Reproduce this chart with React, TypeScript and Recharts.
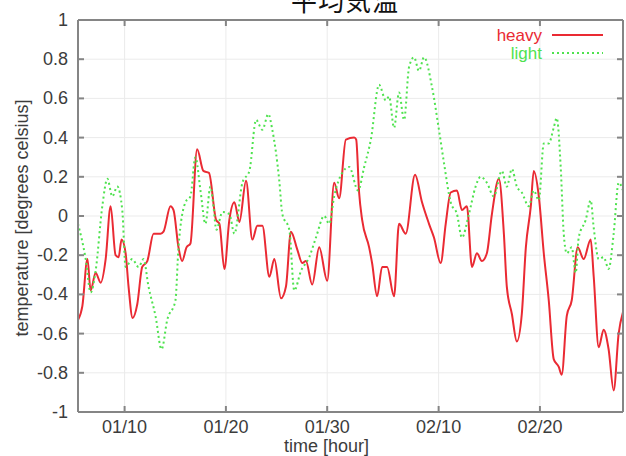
import { LineChart, Line, XAxis, YAxis, CartesianGrid, Legend } from 'recharts'

const title = '平均気温'

const dayTicks = [10, 20, 30, 41, 51]
const dayLabels = ['01/10', '01/20', '01/30', '02/10', '02/20']
const tempTicks = [-1, -0.8, -0.6, -0.4, -0.2, 0, 0.2, 0.4, 0.6, 0.8, 1]
const dayRange = [5.4, 59.2]
const tempRange = [-1, 1]

// heavy series (day of year, temperature)
const heavyDays = [
  5.4, 5.83, 6.33, 6.65, 7.14, 7.64, 8.13, 8.62, 9.11, 9.41,
  9.7, 10.1, 10.39, 10.79, 11.25, 11.74, 12.24, 12.86, 13.55, 13.84,
  14.53, 14.83, 15.32, 15.68, 16.11, 16.5, 17.16, 17.78, 18.33, 19.03,
  19.36, 19.85, 20.34, 20.84, 21.33, 21.99, 22.61, 23.1, 23.6, 24.29,
  24.78, 25.44, 25.93, 26.42, 27.04, 27.54, 27.9, 28.52, 29.21, 30.0,
  30.69, 31.18, 31.84, 32.66, 32.86, 33.15, 33.45, 34.14, 34.43, 34.93,
  35.42, 35.91, 36.6, 37.09, 37.75, 38.67, 39.36, 40.05, 40.54, 41.2,
  41.7, 42.19, 42.81, 43.3, 43.79, 44.29, 44.78, 45.27, 45.76, 46.26,
  46.95, 47.44, 47.73, 48.23, 48.72, 49.21, 49.61, 50.1, 50.39, 50.89,
  51.38, 51.87, 52.36, 52.86, 53.15, 53.65, 54.14, 54.73, 55.32, 56.01,
  56.31, 56.8, 57.29, 57.78, 58.28, 58.77, 59.2,
]
const heavyTemps = [
  -0.53, -0.46, -0.22, -0.38, -0.29, -0.34, -0.22, 0.05, -0.2, -0.21,
  -0.12, -0.19, -0.36, -0.52, -0.45, -0.26, -0.23, -0.09, -0.09, -0.08,
  0.05, 0.03, -0.16, -0.23, -0.16, -0.14, 0.34, 0.23, 0.22, -0.02,
  -0.04, -0.27, -0.02, 0.07, -0.03, 0.18, -0.12, -0.05, -0.05, -0.31,
  -0.22, -0.42, -0.36, -0.08, -0.17, -0.24, -0.23, -0.35, -0.16, -0.33,
  0.17, 0.09, 0.39, 0.4, 0.39, 0.12, -0.02, -0.16, -0.24, -0.41,
  -0.26, -0.26, -0.41, -0.04, -0.09, 0.21, 0.07, -0.04, -0.11, -0.24,
  -0.04, 0.12, 0.13, 0.03, 0.05, -0.26, -0.19, -0.23, -0.19, 0.01,
  0.19, -0.09, -0.36, -0.5, -0.64, -0.5, -0.16, 0.05, 0.23, 0.1,
  -0.19, -0.43, -0.73, -0.77, -0.81, -0.51, -0.43, -0.16, -0.22, -0.12,
  -0.31, -0.67, -0.58, -0.68, -0.89, -0.6, -0.49,
]

// light series
const lightDays = [
  5.4, 6.16, 6.65, 7.14, 7.8, 8.3, 8.79, 9.28, 9.77, 10.1,
  10.76, 11.38, 11.87, 12.36, 13.05, 13.65, 14.21, 15.02, 15.32, 16.01,
  16.5, 16.99, 17.49, 17.98, 18.47, 18.77, 19.06, 19.66, 20.34, 20.84,
  21.63, 22.32, 22.98, 23.6, 24.19, 24.58, 25.27, 25.57, 26.26, 26.75,
  27.41, 28.23, 28.89, 29.7, 30.2, 30.69, 31.48, 32.17, 33.05, 33.65,
  34.31, 35.12, 35.78, 36.11, 36.6, 37.09, 37.59, 38.08, 38.57, 39.06,
  39.56, 40.34, 41.03, 41.53, 42.19, 42.81, 43.3, 43.99, 44.65, 45.14,
  45.76, 46.45, 47.24, 47.73, 48.23, 48.72, 49.21, 49.9, 50.39, 50.89,
  51.38, 51.87, 52.36, 52.66, 53.05, 53.35, 53.65, 54.14, 54.53, 54.83,
  55.52, 56.01, 56.31, 56.8, 57.29, 57.78, 58.28, 58.77, 59.2,
]
const lightTemps = [
  -0.04, -0.22, -0.39, -0.28, 0.05, 0.19, 0.1, 0.15, 0.03, -0.26,
  -0.22, -0.26, -0.22, -0.36, -0.51, -0.68, -0.53, -0.43, -0.16, 0.07,
  0.1, 0.3, 0.13, -0.04, 0.15, 0.05, -0.07, 0.02, 0.01, -0.09,
  0.17, 0.23, 0.49, 0.44, 0.52, 0.44, 0.18, 0.01, -0.07, -0.38,
  -0.28, -0.21, -0.11, 0.0, -0.04, 0.1, 0.22, 0.25, 0.13, 0.25,
  0.39, 0.67, 0.59, 0.61, 0.45, 0.63, 0.49, 0.76, 0.81, 0.74,
  0.81, 0.66, 0.44, 0.27, 0.07, 0.01, -0.11, 0.01, 0.15, 0.2,
  0.17, 0.1, 0.23, 0.15, 0.24, 0.15, 0.12, 0.05, 0.13, 0.08,
  0.37, 0.37, 0.45, 0.5, 0.25, -0.09, -0.19, -0.16, -0.29, -0.11,
  -0.02, 0.08, -0.06, -0.22, -0.21, -0.27, -0.09, 0.17, 0.13,
]

const heavy = heavyDays.map((day, i) => ({ day, temp: heavyTemps[i] }))
const light = lightDays.map((day, i) => ({ day, temp: lightTemps[i] }))

const FONT = '"Liberation Sans", Arial, sans-serif'
const FRAME = '#858585'
const TEXT = '#3c3c3c'
const RED = '#ea2a33'
const GREEN = '#4fe24f'

function LeftTick({ x, y, payload }: any) {
  return (
    <g>
      <line x1={x + 10} x2={x + 16} y1={y} y2={y} stroke={FRAME} strokeWidth={2} />
      <text x={x} y={y} dy={6} textAnchor="end" fill={TEXT} fontSize={18} fontFamily={FONT}>
        {String(payload.value)}
      </text>
    </g>
  )
}

function BottomTick({ x, y, payload }: any) {
  return (
    <g>
      <line x1={x} x2={x} y1={y - 6} y2={y} stroke={FRAME} strokeWidth={2} />
      <text x={x} y={y + 21} textAnchor="middle" fill={TEXT} fontSize={18} fontFamily={FONT}>
        {dayLabels[dayTicks.indexOf(payload.value)]}
      </text>
    </g>
  )
}

// mirrored tick marks on the top and right edges (no labels)
function TopTick({ x, y }: any) {
  return <line x1={x} x2={x} y1={y} y2={y + 6} stroke={FRAME} strokeWidth={2} />
}

function RightTick({ x, y }: any) {
  return <line x1={x - 6} x2={x} y1={y} y2={y} stroke={FRAME} strokeWidth={2} />
}

function LegendBox({ payload }: any) {
  return (
    <svg width={626} height={70}>
      {(payload || []).map((entry: any, i: number) => (
        <g key={entry.value}>
          <text x={542} y={41 + i * 18} textAnchor="end" fill={entry.color} fontSize={17} fontFamily={FONT}>
            {entry.value}
          </text>
          <line
            x1={552}
            x2={603}
            y1={35 + i * 18}
            y2={35 + i * 18}
            stroke={entry.color}
            strokeWidth={2}
            strokeDasharray={entry.payload?.strokeDasharray}
          />
        </g>
      ))}
    </svg>
  )
}

export default function App() {
  return (
    <div style={{ position: 'absolute', left: 0, top: 0, width: 626, height: 456, background: '#fff' }}>
      <LineChart width={626} height={456} margin={{ top: 19, right: 2, bottom: 0, left: 0 }}>
        <CartesianGrid stroke="#ebebeb" strokeWidth={1} />
        <XAxis
          type="number"
          dataKey="day"
          domain={dayRange}
          allowDataOverflow
          ticks={dayTicks}
          interval={0}
          height={44}
          tickSize={0}
          tickMargin={0}
          tickLine={false}
          stroke={FRAME}
          strokeWidth={2}
          tick={<BottomTick />}
          label={{
            content: ({ viewBox }: any) => (
              <text
                x={viewBox.x + viewBox.width / 2 - 24}
                y={viewBox.y + viewBox.height - 4}
                textAnchor="middle"
                fill={TEXT}
                fontSize={18}
                fontFamily={FONT}
              >
                time [hour]
              </text>
            ),
          }}
        />
        <XAxis
          xAxisId="top"
          orientation="top"
          type="number"
          dataKey="day"
          domain={dayRange}
          allowDataOverflow
          ticks={dayTicks}
          interval={0}
          height={1}
          tickSize={0}
          tickMargin={0}
          tickLine={false}
          stroke={FRAME}
          strokeWidth={2}
          tick={<TopTick />}
        />
        <YAxis
          type="number"
          domain={tempRange}
          ticks={tempTicks}
          interval={0}
          width={78}
          tickSize={0}
          tickMargin={10}
          tickLine={false}
          stroke={FRAME}
          strokeWidth={2}
          tick={<LeftTick />}
          label={{
            content: ({ viewBox }: any) => {
              const cx = viewBox.x + 22
              const cy = viewBox.y + viewBox.height / 2 + 2
              return (
                <text
                  x={cx}
                  y={cy}
                  transform={`rotate(-90 ${cx} ${cy})`}
                  textAnchor="middle"
                  dominantBaseline="central"
                  fill={TEXT}
                  fontSize={18}
                  fontFamily={FONT}
                >
                  temperature [degrees celsius]
                </text>
              )
            },
          }}
        />
        <YAxis
          yAxisId="right"
          orientation="right"
          type="number"
          domain={tempRange}
          ticks={tempTicks}
          interval={0}
          width={1}
          tickSize={0}
          tickMargin={0}
          tickLine={false}
          stroke={FRAME}
          strokeWidth={2}
          tick={<RightTick />}
        />
        <Legend
          layout="vertical"
          align="center"
          verticalAlign="middle"
          wrapperStyle={{ position: 'absolute', left: 0, top: 0, width: 626, height: 70 }}
          content={<LegendBox />}
        />
        <Line
          data={heavy}
          dataKey="temp"
          name="heavy"
          type="monotone"
          stroke={RED}
          strokeWidth={2}
          dot={false}
          isAnimationActive={false}
        />
        <Line
          data={light}
          xAxisId="top"
          yAxisId="right"
          dataKey="temp"
          name="light"
          type="monotone"
          stroke={GREEN}
          strokeWidth={2}
          strokeDasharray="2 3"
          dot={false}
          isAnimationActive={false}
        />
      </LineChart>
      <svg width={626} height={20} style={{ position: 'absolute', left: 0, top: 0 }}>
        <text
          x={345}
          y={11}
          textAnchor="middle"
          fontSize={26}
          letterSpacing={1}
          fontFamily='"Noto Sans CJK JP", sans-serif'
          fill="#111"
        >
          {title}
        </text>
      </svg>
    </div>
  )
}
